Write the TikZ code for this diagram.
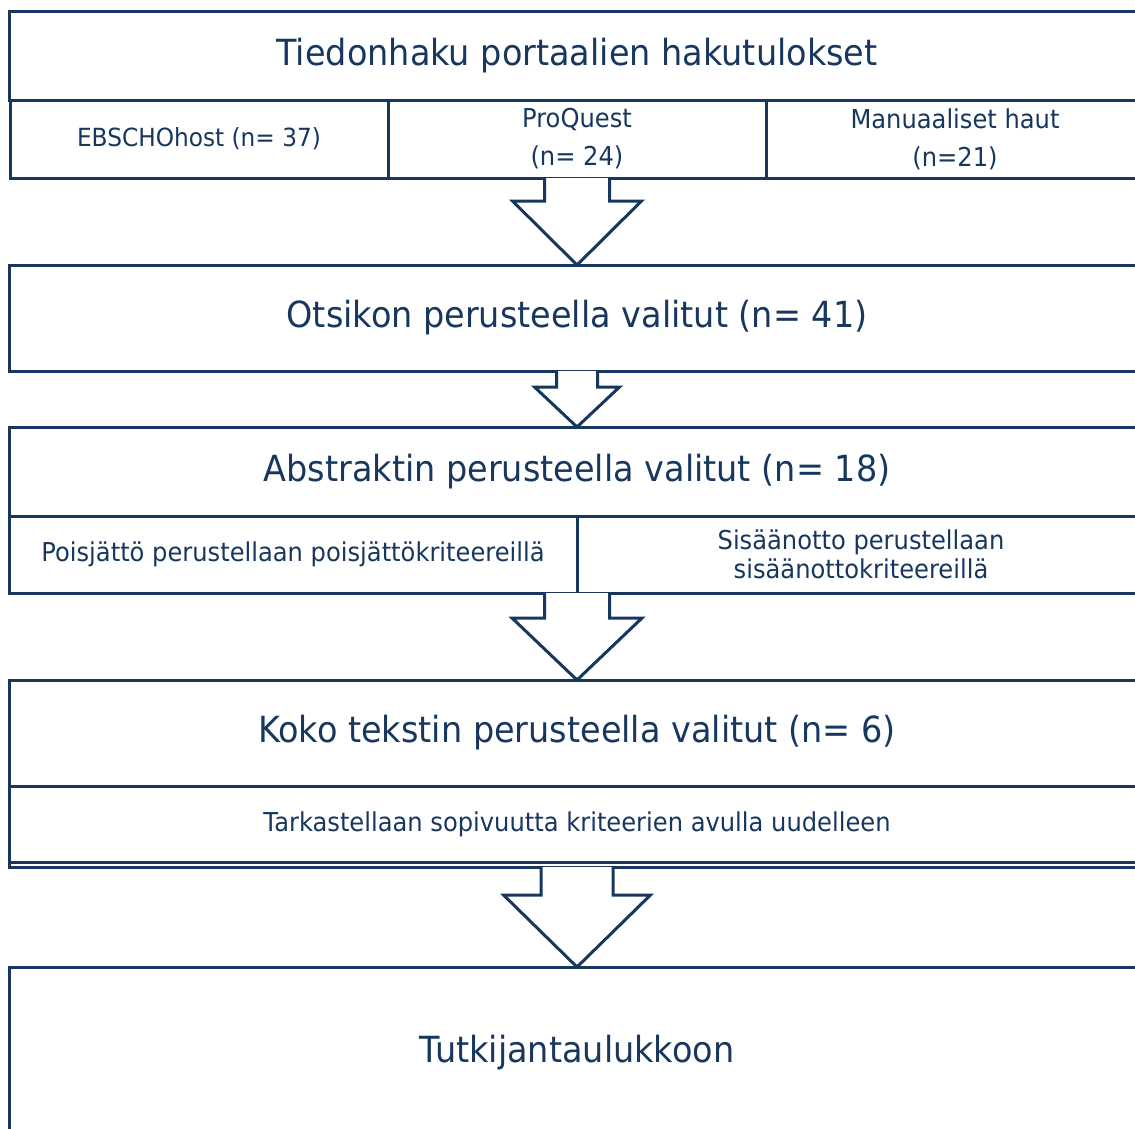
\documentclass[tikz,border=0pt]{standalone}
\usepackage{fontspec}
\setmainfont[FakeStretch=0.93]{DejaVu Sans}
\usetikzlibrary{positioning,calc}
\definecolor{navy}{RGB}{23,55,94}

% block arrow from one node edge to the next
\newcommand{\blockarrow}[5]{% from, to, shaft half-width, head half-width, head length
  \draw[flowline, fill=white] ($(#1)+(-#3,0)$) |- ($(#2)+(-#4,-#5)$) -- (#2)
    -- ($(#2)+(#4,-#5)$) -| ($(#1)+(#3,0)$);
}

\begin{document}
\begin{tikzpicture}[x=1pt, y=-1pt, node distance=0pt,
    flowline/.style = {draw=navy, line width=3pt},
    box/.style = {flowline, text=navy, outer sep=0pt, inner sep=0pt, rectangle},
    title/.style = {box, minimum width=1136pt, font=\fontsize{36}{40}\selectfont},
    sub/.style = {box, align=center, font=\fontsize{26}{29}\selectfont}]
  \useasboundingbox (0,0) rectangle (1135,1128);
  \clip (0,0) rectangle (1135,1128);

  % search results
  \node[title, minimum height=89pt] (t1) at (577,55.5) {Tiedonhaku portaalien hakutulokset};
  \node[sub, minimum width=378pt, minimum height=78pt, below=of t1] (s1b) {ProQuest\\[9pt](n= 24)};
  \node[sub, minimum width=378pt, minimum height=78pt, left=of s1b] (s1a)
    {\fontsize{25}{29}\selectfont EBSCHOhost (n= 37)};
  \node[sub, minimum width=378pt, minimum height=78pt, right=of s1b] (s1c) {Manuaaliset haut\\[9pt](n=21)};

  % titles
  \node[title, minimum height=106pt, below=87pt of s1b] (t2) {Otsikon perusteella valitut (n= 41)};
  \node[title, minimum height=89pt, below=56pt of t2] (t3) {Abstraktin perusteella valitut (n= 18)};
  \node[sub, minimum width=568pt, minimum height=77pt, below=of t3.south west, anchor=north west] (s3a)
    {Poisjättö perustellaan poisjättökriteereillä};
  \node[sub, minimum width=568pt, minimum height=77pt, right=of s3a] (s3b)
    {Sisäänotto perustellaan\\sisäänottokriteereillä};

  % full text
  \node[title, minimum height=106pt, below=164pt of t3] (t4) {Koko tekstin perusteella valitut (n= 6)};
  \node[sub, minimum width=1136pt, minimum height=76pt, below=of t4] (s4)
    {Tarkastellaan sopivuutta kriteerien avulla uudelleen};
  \draw[flowline] (s4.south west) |- ($(s4.south east)+(0,5)$);
  \coordinate (s4b) at ($(s4.south)+(0,5)$);

  \node[title, minimum height=172pt, below=105pt of s4] (t5) {Tutkijantaulukkoon};

  \blockarrow{s1b.south}{t2.north}{32.5}{64.5}{64}
  \blockarrow{t2.south}{t3.north}{20.5}{42.5}{40}
  \blockarrow{s3a.south east}{t4.north}{32.5}{65}{62}
  \blockarrow{s4b}{t5.north}{36}{73.5}{72}
\end{tikzpicture}
\end{document}
